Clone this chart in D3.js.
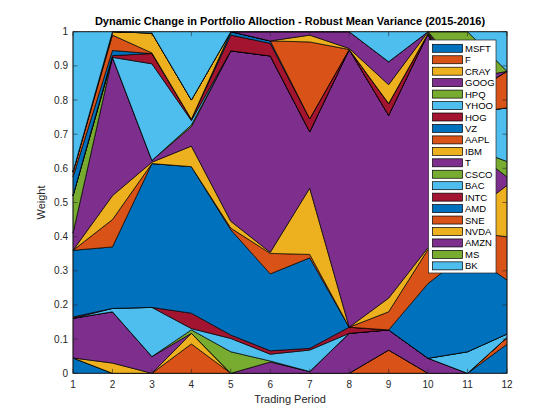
<!DOCTYPE html>
<html>
<head>
<meta charset="utf-8">
<script src="https://cdn.jsdelivr.net/npm/d3@7"></script>
<style>
  body { margin: 0; background: white; }
  svg { display: block; font-family: "Liberation Sans", Arial, sans-serif; }
</style>
</head>
<body>
<div id="chart"></div>
<script>
var
  periods = [1, 2, 3, 4, 5, 6, 7, 8, 9, 10, 11, 12],

  tickers = ["MSFT", "F", "CRAY", "GOOG", "HPQ", "YHOO", "HOG", "VZ", "AAPL", "IBM",
             "T", "CSCO", "BAC", "INTC", "AMD", "SNE", "NVDA", "AMZN", "MS", "BK"],

  // weight of each ticker per trading period, same order as tickers
  MSFT = [0.045, 0, 0, 0, 0, 0, 0, 0, 0, 0, 0, 0.085],
  F    = [0, 0, 0, 0.086, 0, 0, 0, 0, 0.068, 0, 0, 0.02],
  CRAY = [0, 0.03, 0, 0.031, 0, 0, 0, 0, 0, 0, 0, 0],
  GOOG = [0.116, 0.15, 0.049, 0, 0, 0.033, 0.005, 0.117, 0.059, 0.044, 0, 0],
  HPQ  = [0, 0, 0, 0.01, 0.063, 0.003, 0, 0, 0, 0, 0, 0],
  YHOO = [0, 0.01, 0.144, 0.004, 0.039, 0.02, 0.063, 0, 0, 0, 0.063, 0.01],
  HOG  = [0.004, 0, 0, 0.045, 0.01, 0.01, 0.005, 0.018, 0, 0, 0, 0],
  VZ   = [0.195, 0.18, 0.421, 0.429, 0.308, 0.225, 0.265, 0, 0, 0.219, 0.29, 0.158],
  AAPL = [0, 0.08, 0, 0, 0.005, 0.06, 0.01, 0, 0.053, 0.1, 0.06, 0.127],
  IBM  = [0, 0.07, 0.004, 0.06, 0.02, 0.003, 0.194, 0, 0.04, 0.005, 0.05, 0.15],
  T    = [0.05, 0.405, 0.005, 0.057, 0.499, 0.575, 0.165, 0.813, 0.535, 0.627, 0.2, 0.025],
  CSCO = [0.11, 0, 0, 0.005, 0, 0, 0, 0, 0, 0, 0, 0.045],
  BAC  = [0, 0, 0.283, 0.013, 0, 0, 0, 0, 0, 0, 0.1, 0.157],
  INTC = [0, 0.005, 0.03, 0.004, 0.046, 0.037, 0.038, 0, 0.035, 0, 0, 0],
  AMD  = [0.055, 0.015, 0, 0, 0.01, 0.007, 0, 0, 0, 0, 0, 0],
  SNE  = [0.015, 0.045, 0.002, 0, 0, 0, 0.225, 0, 0, 0, 0.05, 0.107],
  NVDA = [0, 0.01, 0.058, 0.056, 0, 0, 0.02, 0.003, 0.055, 0.005, 0, 0],
  AMZN = [0, 0, 0, 0, 0, 0.027, 0.01, 0.049, 0.067, 0, 0.05, 0],
  MS   = [0, 0, 0, 0, 0, 0, 0, 0, 0, 0, 0.137, 0],
  BK   = [0.41, 0, 0.004, 0.2, 0, 0, 0, 0, 0.088, 0, 0, 0.116],

  series = [MSFT, F, CRAY, GOOG, HPQ, YHOO, HOG, VZ, AAPL, IBM,
            T, CSCO, BAC, INTC, AMD, SNE, NVDA, AMZN, MS, BK],

  yTicks = [0, 0.1, 0.2, 0.3, 0.4, 0.5, 0.6, 0.7, 0.8, 0.9, 1],

  // matlab default color order, cycles every 7 series
  COLORS = ["#0072BD", "#D95319", "#EDB120", "#7E2F8E", "#77AC30", "#4DBEEE", "#A2142F"],

  WIDTH = 560,
  HEIGHT = 420,

  // axes box, in pixels
  AXES_LEFT = 73,
  AXES_RIGHT = 507,
  AXES_TOP = 31.7,
  AXES_BOTTOM = 373.3,

  TICK_LENGTH = 4.5,

  // legend box
  LEGEND_LEFT = 428.5,
  LEGEND_TOP = 40,
  LEGEND_WIDTH = 67.5,
  LEGEND_ROW = 11.45;

function buildTable(){
  return periods.map(function(p, i){
    var row = {period: p};
    tickers.forEach(function(name, k){
      row[name] = series[k][i];
    });
    return row;
  });
}

function drawAxes(svg, x, y){
  var g = svg.append("g").attr("font-size", 10).attr("fill", "#262626");

  // x ticks, bottom and top
  periods.forEach(function(p){
    var px = x(p);
    svg.append("line").attr("x1", px).attr("x2", px)
      .attr("y1", AXES_BOTTOM).attr("y2", AXES_BOTTOM - TICK_LENGTH)
      .attr("stroke", "#262626").attr("stroke-width", 0.6);
    svg.append("line").attr("x1", px).attr("x2", px)
      .attr("y1", AXES_TOP).attr("y2", AXES_TOP + TICK_LENGTH)
      .attr("stroke", "#262626").attr("stroke-width", 0.6);
    g.append("text").attr("x", px).attr("y", AXES_BOTTOM + 15)
      .attr("text-anchor", "middle").text(p);
  });

  // y ticks, left and right
  yTicks.forEach(function(t){
    var py = y(t);
    svg.append("line").attr("x1", AXES_LEFT).attr("x2", AXES_LEFT + TICK_LENGTH)
      .attr("y1", py).attr("y2", py)
      .attr("stroke", "#262626").attr("stroke-width", 0.6);
    svg.append("line").attr("x1", AXES_RIGHT).attr("x2", AXES_RIGHT - TICK_LENGTH)
      .attr("y1", py).attr("y2", py)
      .attr("stroke", "#262626").attr("stroke-width", 0.6);
    g.append("text").attr("x", AXES_LEFT - 5).attr("y", py + 3.5)
      .attr("text-anchor", "end").text(t);
  });

  svg.append("rect")
    .attr("x", AXES_LEFT).attr("y", AXES_TOP)
    .attr("width", AXES_RIGHT - AXES_LEFT).attr("height", AXES_BOTTOM - AXES_TOP)
    .attr("fill", "none").attr("stroke", "#262626").attr("stroke-width", 0.7);

  g.append("text").attr("x", (AXES_LEFT + AXES_RIGHT) / 2).attr("y", AXES_BOTTOM + 30)
    .attr("text-anchor", "middle").attr("font-size", 11).text("Trading Period");

  g.append("text")
    .attr("transform", "translate(" + (AXES_LEFT - 28) + "," + ((AXES_TOP + AXES_BOTTOM) / 2) + ") rotate(-90)")
    .attr("text-anchor", "middle").attr("font-size", 11).text("Weight");

  svg.append("text").attr("x", (AXES_LEFT + AXES_RIGHT) / 2).attr("y", AXES_TOP - 7)
    .attr("text-anchor", "middle").attr("font-size", 11).attr("font-weight", "bold")
    .attr("fill", "black")
    .text("Dynamic Change in Portfolio Alloction - Robust Mean Variance (2015-2016)");
}

function drawLegend(svg){
  var g = svg.append("g");
  g.append("rect")
    .attr("x", LEGEND_LEFT).attr("y", LEGEND_TOP)
    .attr("width", LEGEND_WIDTH).attr("height", LEGEND_ROW * tickers.length + 4)
    .attr("fill", "white").attr("stroke", "#262626").attr("stroke-width", 0.7);
  tickers.forEach(function(name, k){
    var cy = LEGEND_TOP + 8.3 + k * LEGEND_ROW;
    g.append("rect")
      .attr("x", LEGEND_LEFT + 4).attr("y", cy - 4)
      .attr("width", 30).attr("height", 8)
      .attr("fill", COLORS[k % COLORS.length])
      .attr("stroke", "black").attr("stroke-width", 0.7);
    g.append("text")
      .attr("x", LEGEND_LEFT + 36.5).attr("y", cy + 3.5)
      .attr("font-size", 9.5).attr("fill", "black")
      .text(name);
  });
}

function renderChart(){
  var
    svg = d3.select("#chart").append("svg")
      .attr("width", WIDTH).attr("height", HEIGHT),
    x = d3.scaleLinear().domain([1, 12]).range([AXES_LEFT, AXES_RIGHT]),
    y = d3.scaleLinear().domain([0, 1]).range([AXES_BOTTOM, AXES_TOP]),
    stacked = d3.stack().keys(tickers)(buildTable()),
    area = d3.area()
      .x(function(d){ return x(d.data.period); })
      .y0(function(d){ return y(d[0]); })
      .y1(function(d){ return y(d[1]); });

  svg.append("rect").attr("width", WIDTH).attr("height", HEIGHT).attr("fill", "white");

  svg.append("g").selectAll("path")
    .data(stacked)
    .join("path")
      .attr("d", area)
      .attr("fill", function(d, k){ return COLORS[k % COLORS.length]; })
      .attr("stroke", "black")
      .attr("stroke-width", 0.7)
      .attr("stroke-linejoin", "round");

  drawAxes(svg, x, y);
  drawLegend(svg);
}

renderChart();
</script>
</body>
</html>
